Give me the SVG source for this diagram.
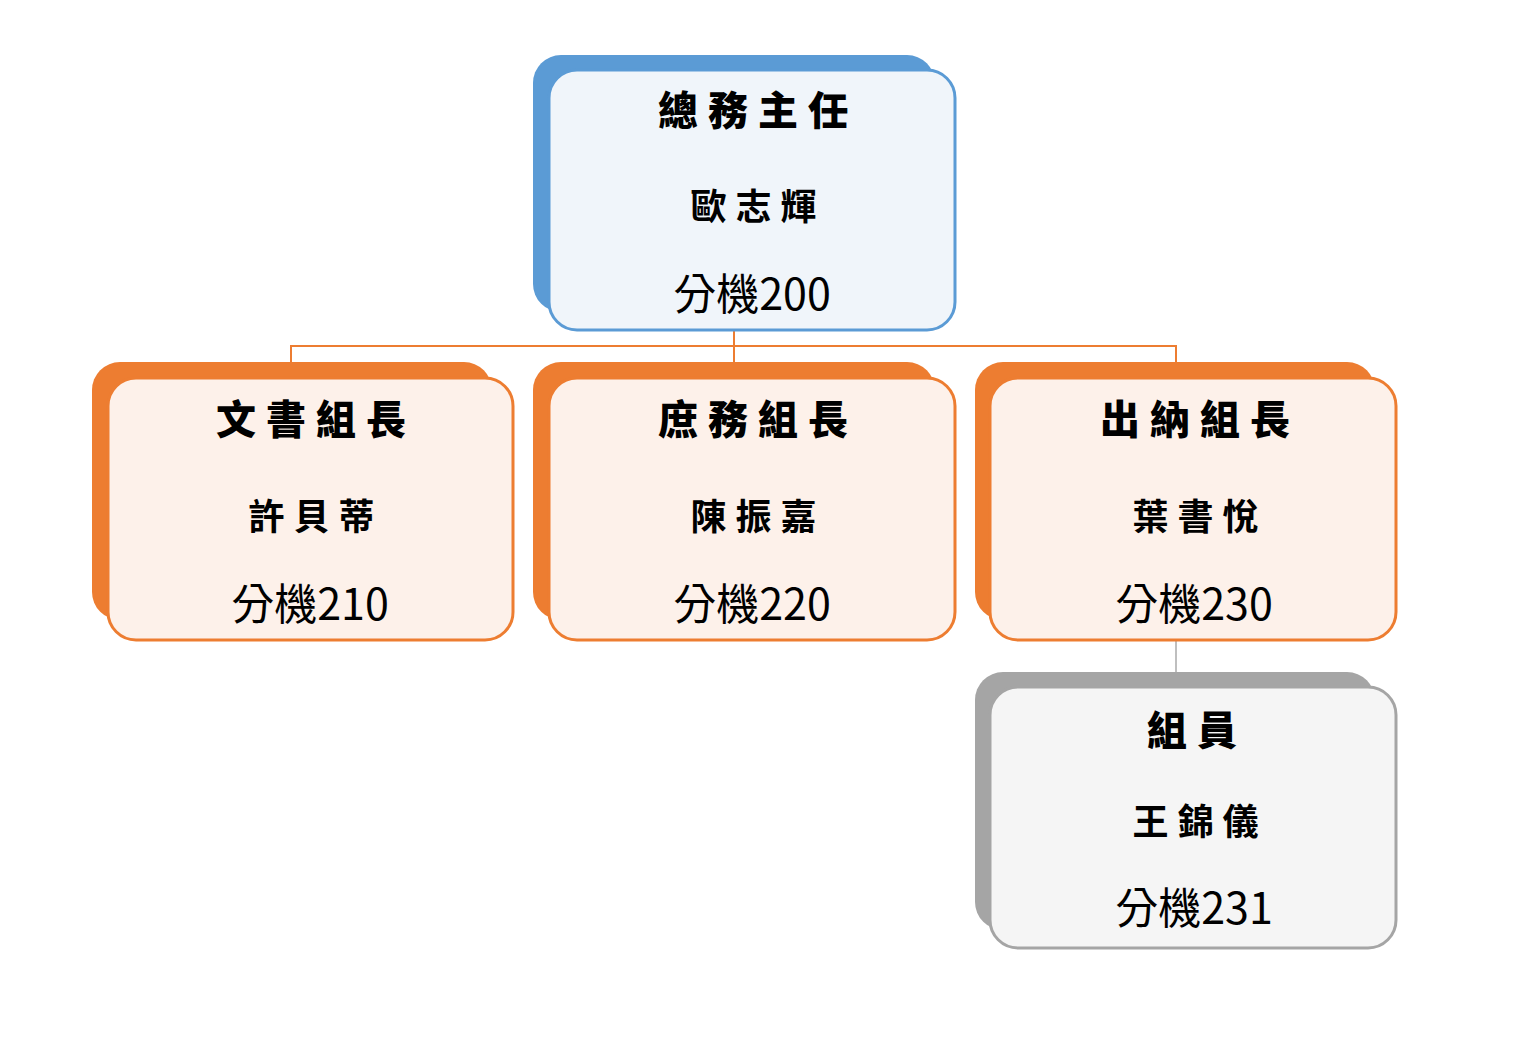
<svg xmlns="http://www.w3.org/2000/svg" width="1521" height="1040" viewBox="0 0 1521 1040">
<style>
text{font-family:"Noto Sans CJK TC","Noto Sans CJK SC",sans-serif;text-anchor:middle;fill:#000}
.t{font-size:40px;font-weight:900;letter-spacing:10px}
.n{font-size:36px;font-weight:700;letter-spacing:9px}
.e{font-size:43px;font-weight:400}
.fb{fill:#f0f5fa;stroke:#5b9bd5;stroke-width:3}
.fo{fill:#fdf1ea;stroke:#ed7d31;stroke-width:3}
.fg{fill:#f5f5f5;stroke:#a5a5a5;stroke-width:3}
</style>
<rect width="1521" height="1040" fill="#fff"/>
<g id="connectors" fill="none" stroke-width="2">
<path d="M734 330V346M291 362V346H1176V362M734 346V362" stroke="#ed7d31"/>
<path d="M1176 640V672" stroke="#bfbfbf"/>
</g>
<g id="n0">
<rect x="533" y="55" width="402" height="257" rx="28" fill="#5b9bd5"/>
<rect x="549" y="70" width="406" height="260" rx="28" class="fb"/>
<text class="t" x="758" y="125">總務主任</text>
<text class="n" x="758" y="220">歐志輝</text>
<text class="e" x="752" y="310">分機200</text>
</g>
<g id="n1">
<rect x="92" y="362" width="400" height="258" rx="28" fill="#ed7d31"/>
<rect x="108" y="378" width="405" height="262" rx="28" class="fo"/>
<text class="t" x="316" y="434">文書組長</text>
<text class="n" x="316" y="530">許貝蒂</text>
<text class="e" x="310" y="620">分機210</text>
</g>
<g id="n2">
<rect x="533" y="362" width="402" height="258" rx="28" fill="#ed7d31"/>
<rect x="549" y="378" width="406" height="262" rx="28" class="fo"/>
<text class="t" x="758" y="434">庶務組長</text>
<text class="n" x="758" y="530">陳振嘉</text>
<text class="e" x="752" y="620">分機220</text>
</g>
<g id="n3">
<rect x="975" y="362" width="400" height="258" rx="28" fill="#ed7d31"/>
<rect x="990" y="378" width="406" height="262" rx="28" class="fo"/>
<text class="t" x="1200" y="434">出納組長</text>
<text class="n" x="1200" y="530">葉書悅</text>
<text class="e" x="1194" y="620">分機230</text>
</g>
<g id="n4">
<rect x="975" y="672" width="400" height="258" rx="28" fill="#a5a5a5"/>
<rect x="990" y="687" width="406" height="261" rx="28" class="fg"/>
<text class="t" x="1197" y="745">組員</text>
<text class="n" x="1200" y="835">王錦儀</text>
<text class="e" x="1194" y="924">分機231</text>
</g>
</svg>
